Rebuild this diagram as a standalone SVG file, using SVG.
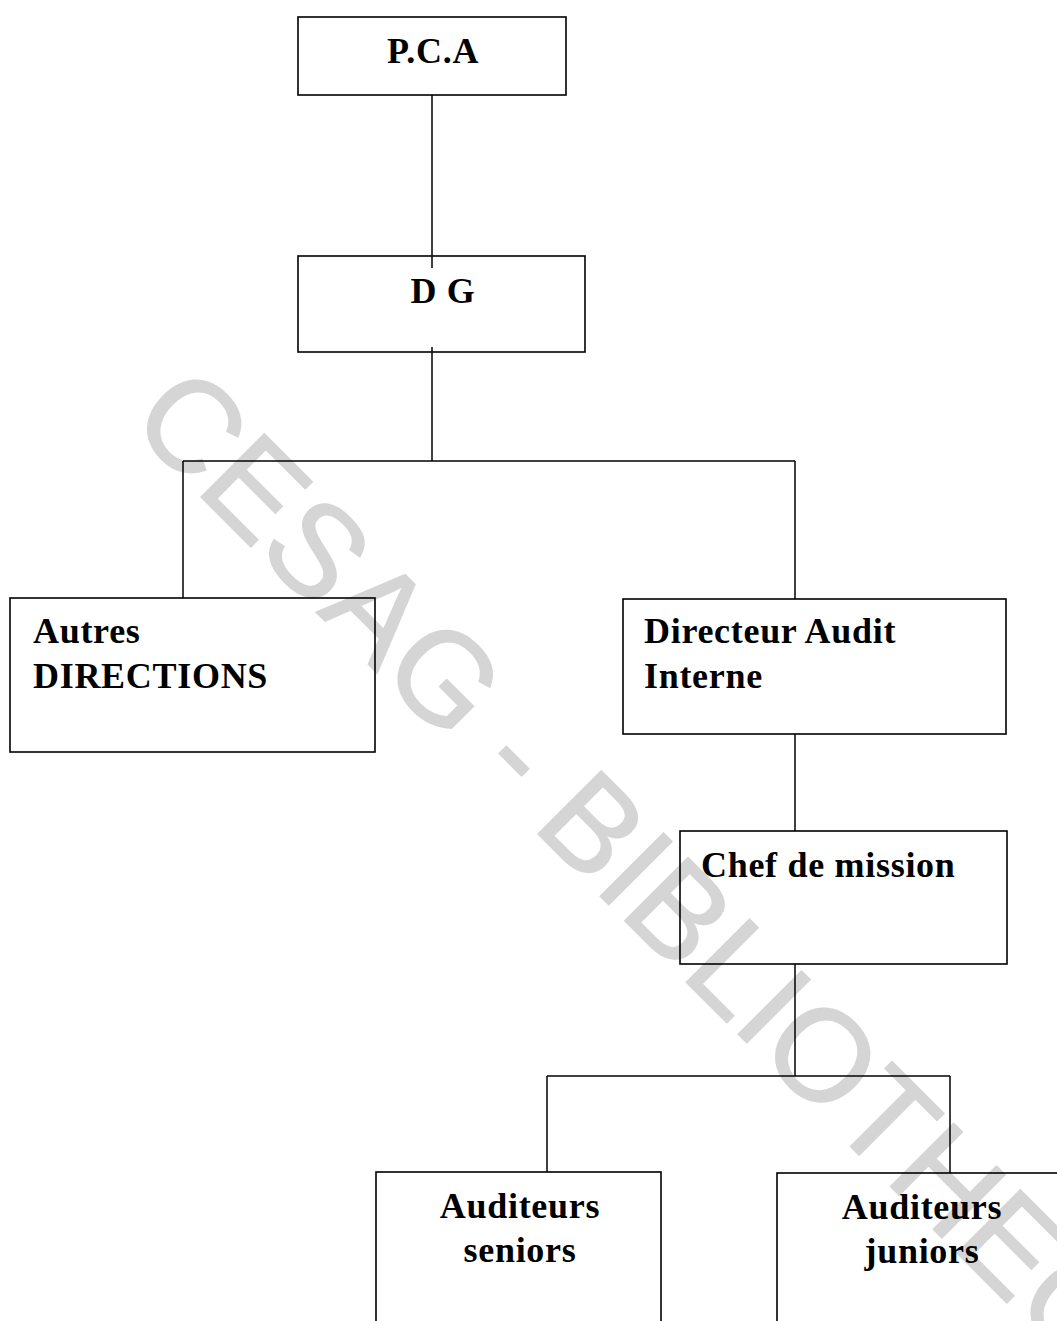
<svg xmlns="http://www.w3.org/2000/svg" width="1057" height="1321" viewBox="0 0 1057 1321">
<style>
.box{fill:none;stroke:#000;stroke-width:1.6}
.conn line{stroke:#000;stroke-width:1.5}
.t{font-family:"Liberation Serif","Times New Roman",serif;font-weight:bold;font-size:36px;letter-spacing:0.7px;fill:#000}
.wm{font-family:"Liberation Sans",Arial,sans-serif;font-size:130px;fill:#d5d5d5;stroke:#d5d5d5;stroke-width:1.5}
</style>
<rect width="1057" height="1321" fill="#fff"/>
<text class="wm" x="0" y="0" transform="translate(127,423) rotate(45)">CESAG - BIBLIOTHEQUE</text>
<g id="connectors" class="conn">
<line x1="432" y1="95" x2="432" y2="268"/>
<line x1="432" y1="347" x2="432" y2="461"/>
<line x1="183" y1="461" x2="795" y2="461"/>
<line x1="183" y1="461" x2="183" y2="598"/>
<line x1="795" y1="461" x2="795" y2="599"/>
<line x1="795" y1="734" x2="795" y2="831"/>
<line x1="795" y1="964" x2="795" y2="1076"/>
<line x1="547" y1="1076" x2="950" y2="1076"/>
<line x1="547" y1="1076" x2="547" y2="1172"/>
<line x1="950" y1="1076" x2="950" y2="1173"/>
</g>
<g id="pca"><rect class="box" x="298" y="17" width="268" height="78"/><text class="t" x="433" y="63" text-anchor="middle">P.C.A</text></g>
<g id="dg"><rect class="box" x="298" y="256" width="287" height="96"/><text class="t" x="443" y="303" text-anchor="middle">D G</text></g>
<g id="autres"><rect class="box" x="10" y="598" width="365" height="154"/><text class="t" x="33" y="643">Autres</text><text class="t" x="33" y="688">DIRECTIONS</text></g>
<g id="directeur"><rect class="box" x="623" y="599" width="383" height="135"/><text class="t" x="644" y="643">Directeur Audit</text><text class="t" x="644" y="688">Interne</text></g>
<g id="chef"><rect class="box" x="680" y="831" width="327" height="133"/><text class="t" x="701" y="877">Chef de mission</text></g>
<g id="seniors"><rect class="box" x="376" y="1172" width="285" height="160"/><text class="t" x="520" y="1218" text-anchor="middle">Auditeurs</text><text class="t" x="520" y="1262" text-anchor="middle">seniors</text></g>
<g id="juniors"><rect class="box" x="777" y="1173" width="300" height="160"/><text class="t" x="922" y="1219" text-anchor="middle">Auditeurs</text><text class="t" x="922" y="1263" text-anchor="middle">juniors</text></g>
</svg>
